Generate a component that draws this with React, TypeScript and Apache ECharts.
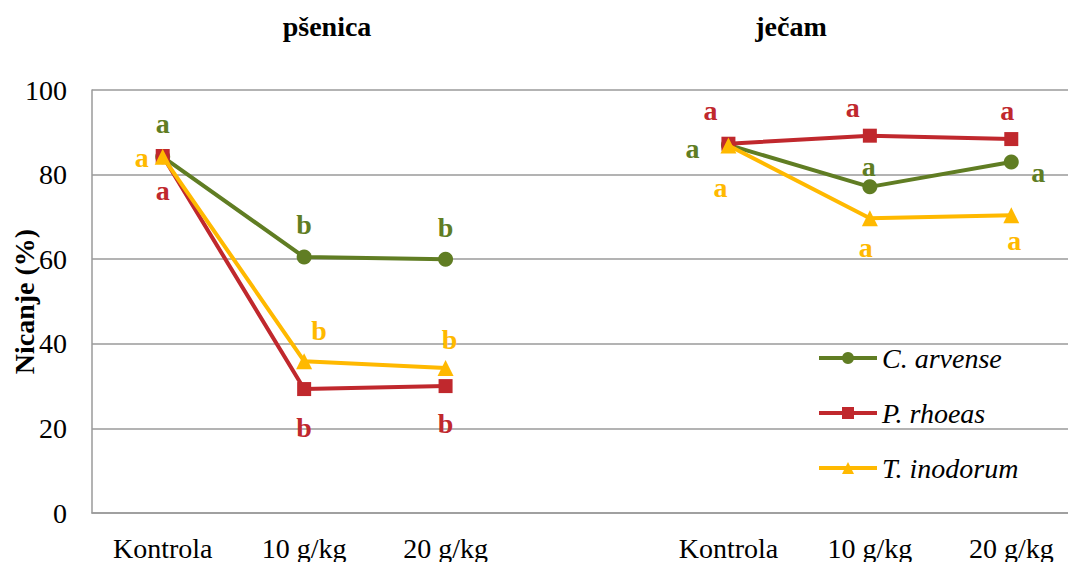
import React, { useEffect, useRef } from "react";
import * as echarts from "echarts";

const categories = ["Kontrola", "10 g/kg", "20 g/kg", "", "Kontrola", "10 g/kg", "20 g/kg"];
const groupTitles = ["pšenica", "ječam"];
const yTicks = [0, 20, 40, 60, 80, 100];

const seriesNames = ["C. arvense", "P. rhoeas", "T. inodorum"];
const cArvense = [84.2, 60.5, 60.0, "-", 87.0, 77.1, 83.0];
const pRhoeas = [84.4, 29.3, 30.0, "-", 87.3, 89.2, 88.4];
const tInodorum = [84.2, 35.9, 34.3, "-", 86.9, 69.7, 70.4];

const cLetters = ["a", "b", "b", "", "a", "a", "a"];
const pLetters = ["a", "b", "b", "", "a", "a", "a"];
const tLetters = ["a", "b", "b", "", "a", "a", "a"];

// label placement (style): [dx, dy] offsets from the point
const cOffsets = [[0, -33], [0, -33], [0, -32], [0, 0], [-36, 4], [-1, -20], [27, 11]];
const pOffsets = [[0, 35], [0, 38], [0, 37], [0, 0], [-18, -33], [-17, -28], [-4, -29]];
const tOffsets = [[-21, 1], [15, -31], [4, -28], [0, 0], [-8, 42], [-4, 29], [3, 25]];

const COLORS = ["#607D23", "#C0282D", "#FFB900"];
const SYMBOLS = ["circle", "rect", "triangle"];
const SIZES = [15, 14, 16];
const FONT = "Liberation Serif, Times New Roman, serif";
const FS = 28;

function buildData(values: any[], letters: string[], offsets: number[][], color: string) {
  return values.map((v, i) => {
    if (v === "-") return "-";
    return {
      value: v,
      label: {
        show: true,
        position: "inside",
        formatter: letters[i],
        offset: offsets[i],
        color,
        fontFamily: FONT,
        fontWeight: "bold",
        fontSize: FS,
      },
    };
  });
}

export default function App() {
  const ref = useRef<HTMLDivElement>(null);
  useEffect(() => {
    if (!ref.current) return;
    const chart = echarts.init(ref.current, undefined, { renderer: "svg" });
    const allValues = [cArvense, pRhoeas, tInodorum];
    const allLetters = [cLetters, pLetters, tLetters];
    const allOffsets = [cOffsets, pOffsets, tOffsets];
    chart.setOption({
      animation: false,
      backgroundColor: "#ffffff",
      textStyle: { fontFamily: FONT },
      grid: {
        left: 92,
        top: 90,
        width: 990,
        height: 423,
        containLabel: false,
        outerBoundsMode: "none",
      },
      graphic: [
        {
          type: "text",
          x: 327,
          y: 26,
          style: {
            text: groupTitles[0],
            fontFamily: FONT,
            fontWeight: "bold",
            fontSize: FS,
            fill: "#000",
            textAlign: "center",
            textVerticalAlign: "middle",
          },
        },
        {
          type: "text",
          x: 791,
          y: 26,
          style: {
            text: groupTitles[1],
            fontFamily: FONT,
            fontWeight: "bold",
            fontSize: FS,
            fill: "#000",
            textAlign: "center",
            textVerticalAlign: "middle",
          },
        },
      ],
      legend: {
        orient: "vertical",
        left: 812,
        top: 338,
        itemWidth: 58,
        itemHeight: 15,
        itemGap: 25,
        data: seriesNames,
        lineStyle: { width: 4 },
        textStyle: {
          fontFamily: FONT,
          fontStyle: "italic",
          fontSize: FS,
          color: "#000",
          lineHeight: 30,
        },
      },
      xAxis: {
        type: "category",
        data: categories,
        boundaryGap: true,
        axisTick: { show: false },
        axisLine: { show: true, lineStyle: { color: "#9a9a9a", width: 1.5 } },
        axisLabel: {
          interval: 0,
          margin: 21,
          color: "#000",
          fontFamily: FONT,
          fontSize: FS,
        },
      },
      yAxis: {
        type: "value",
        min: yTicks[0],
        max: yTicks[yTicks.length - 1],
        interval: 20,
        name: "Nicanje (%)",
        nameLocation: "middle",
        nameGap: 54,
        nameMoveOverlap: false,
        nameTextStyle: {
          fontFamily: FONT,
          fontWeight: "bold",
          fontSize: FS,
          color: "#000",
        },
        axisTick: { show: false },
        axisLine: { show: true, lineStyle: { color: "#9a9a9a", width: 1.5 } },
        splitLine: { show: true, lineStyle: { color: "#9a9a9a", width: 1.5 } },
        axisLabel: {
          margin: 25,
          color: "#000",
          fontFamily: FONT,
          fontSize: FS,
        },
      },
      series: seriesNames.map((name, i) => ({
        name,
        type: "line",
        data: buildData(allValues[i], allLetters[i], allOffsets[i], COLORS[i]),
        connectNulls: false,
        symbol: SYMBOLS[i],
        symbolSize: SIZES[i],
        showAllSymbol: true,
        color: COLORS[i],
        lineStyle: { color: COLORS[i], width: 4 },
        itemStyle: { color: COLORS[i] },
        z: 2 + i,
      })),
    });
    return () => chart.dispose();
  }, []);
  return (
    <div
      ref={ref}
      style={{ position: "absolute", left: 0, top: 0, width: 1068, height: 562 }}
    />
  );
}
